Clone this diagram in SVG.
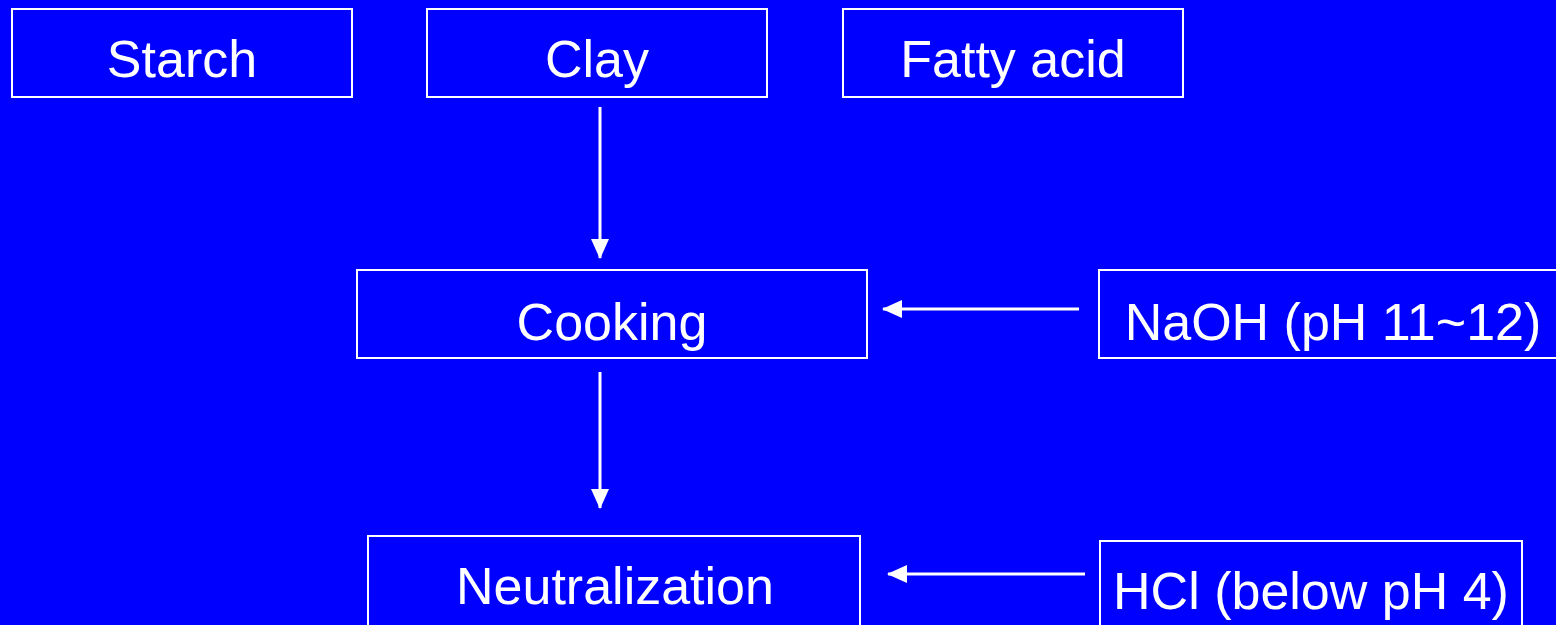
<svg xmlns="http://www.w3.org/2000/svg" width="1556" height="625" viewBox="0 0 1556 625">
<style>
.box{fill:none;stroke:#fff;stroke-width:2}
.t{fill:#fff;font-family:"Liberation Sans",Arial,sans-serif;font-size:52px;text-anchor:middle}
.c{stroke:#fff;stroke-width:3;fill:none}
</style>
<rect width="1556" height="625" fill="#0000fe"/>
<defs>
<marker id="ah" viewBox="0 0 20 20" refX="19" refY="10" markerWidth="20" markerHeight="20" markerUnits="userSpaceOnUse" orient="auto">
<path d="M0,1 L20,10 L0,19 Z" fill="#fff"/>
</marker>
</defs>
<g id="starch"><rect class="box" x="12" y="9" width="340" height="88"/><text class="t" x="182" y="77">Starch</text></g>
<g id="clay"><rect class="box" x="427" y="9" width="340" height="88"/><text class="t" x="597" y="77">Clay</text></g>
<g id="fatty"><rect class="box" x="843" y="9" width="340" height="88"/><text class="t" x="1013" y="77">Fatty acid</text></g>
<g id="cooking"><rect class="box" x="357" y="270" width="510" height="88"/><text class="t" x="612" y="340">Cooking</text></g>
<g id="naoh"><rect class="box" x="1099" y="270" width="470" height="88"/><text class="t" x="1333" y="340">NaOH (pH 11~12)</text></g>
<g id="neutral"><rect class="box" x="368" y="536" width="492" height="100"/><text class="t" x="615" y="604">Neutralization</text></g>
<g id="hcl"><rect class="box" x="1100" y="541" width="422" height="100"/><text class="t" x="1311" y="609">HCl (below pH 4)</text></g>
<g id="connectors">
<line class="c" x1="600" y1="107" x2="600" y2="258" marker-end="url(#ah)"/>
<line class="c" x1="600" y1="372" x2="600" y2="508" marker-end="url(#ah)"/>
<line class="c" x1="1079" y1="309" x2="883" y2="309" marker-end="url(#ah)"/>
<line class="c" x1="1085" y1="574" x2="888" y2="574" marker-end="url(#ah)"/>
</g>
</svg>
